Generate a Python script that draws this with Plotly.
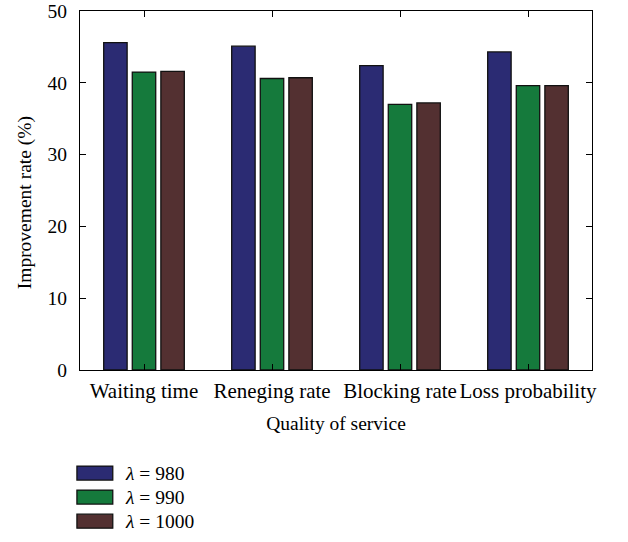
import plotly.graph_objects as go

categories = ["Waiting time", "Reneging rate", "Blocking rate", "Loss probability"]
series_names = ["980", "990", "1000"]
lambda_980 = [45.6, 45.1, 42.4, 44.3]
lambda_990 = [41.5, 40.6, 37.0, 39.6]
lambda_1000 = [41.6, 40.7, 37.2, 39.6]
y_ticks = [0, 10, 20, 30, 40, 50]

series_values = [lambda_980, lambda_990, lambda_1000]
colors = ["#2b2b73", "#157a3c", "#533031"]
FONT = "Liberation Serif"
FS = 19.5

fig = go.Figure()
for name, vals, col in zip(series_names, series_values, colors):
    fig.add_trace(go.Bar(
        x=categories, y=vals, name=name,
        marker=dict(color=col, line=dict(color="#111111", width=1.3)),
        showlegend=False,
    ))

# Legend drawn as wide swatches with labels below the axes
for i, (name, col) in enumerate(zip(series_names, colors)):
    y0 = -0.287 - i * 0.067
    fig.add_shape(type="rect", xref="paper", yref="paper",
                  x0=-0.006, x1=0.064, y0=y0 - 0.0195, y1=y0 + 0.0195,
                  fillcolor=col, line=dict(color="#111111", width=1.3))
    fig.add_annotation(xref="paper", yref="paper", x=0.084, y=y0,
                       text="<i>λ</i> = " + name, showarrow=False,
                       xanchor="left", yanchor="middle",
                       font=dict(family=FONT, size=FS, color="black"))

# Vertical y-axis title, set slightly below the axis midpoint
fig.add_annotation(xref="paper", yref="paper", x=-0.107, y=0.465,
                   text="Improvement rate (%)", textangle=-90, showarrow=False,
                   xanchor="center", yanchor="middle",
                   font=dict(family=FONT, size=FS, color="black"))

axis_common = dict(showline=True, linecolor="black", linewidth=1, mirror="ticks",
                   ticks="inside", ticklen=6, tickcolor="black", showgrid=False,
                   zeroline=False, automargin=False)

fig.update_layout(
    width=628, height=542,
    margin=dict(l=80, r=36, t=11, b=172),
    paper_bgcolor="white", plot_bgcolor="white",
    barmode="group", bargap=0.33, bargroupgap=0.18,
    font=dict(family=FONT, size=FS, color="black"),
    xaxis=dict(**axis_common, ticklabelstandoff=2,
               tickfont=dict(family=FONT, size=21, color="black"),
               title=dict(text="Quality of service", standoff=14,
                          font=dict(family=FONT, size=FS))),
    yaxis=dict(**axis_common, range=[0, 50], tickvals=y_ticks,
               ticklabelstandoff=8,
               tickfont=dict(family=FONT, size=FS, color="black")),
)

fig.write_html("out.html")
